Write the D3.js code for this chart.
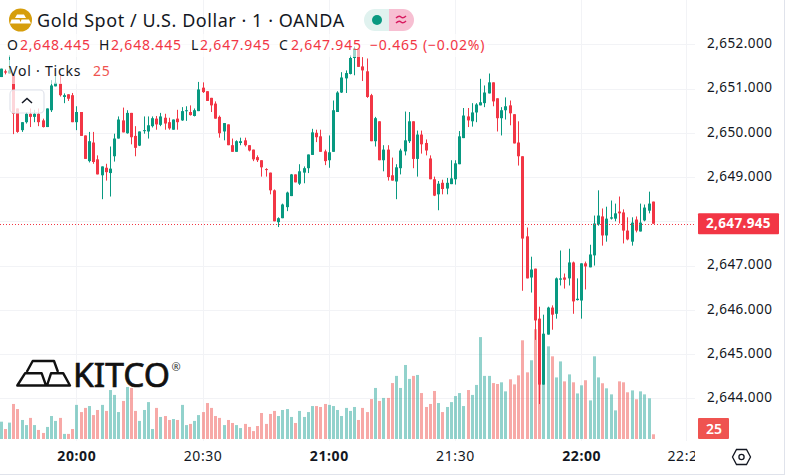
<!DOCTYPE html>
<html>
<head>
<meta charset="utf-8">
<script src="https://cdn.jsdelivr.net/npm/d3@7"></script>
<style>
  html, body { margin: 0; padding: 0; background: #fff; }
  svg { display: block; }
  text { font-family: "Noto Sans", sans-serif; }
</style>
</head>
<body>
<script>
// one-minute candles, 19:42 to 22:17
const startTime = Date.UTC(2024, 0, 1, 19, 42);

const opens = [
  2651.26,2651.39,2651.34,2651.30,2650.55,2650.06,2650.24,2650.43,2650.36,2650.43,2650.28,2650.13,2650.51,
  2651.05,2651.11,2650.81,2650.87,2650.85,2650.24,2650.47,2649.94,2649.36,2649.78,2649.40,2649.04,2649.21,
  2649.09,2649.47,2649.87,2650.28,2649.99,2650.45,2649.93,2649.71,2650.04,2650.03,2650.15,2650.32,2650.18,
  2650.34,2650.24,2650.07,2650.32,2650.28,2650.49,2650.47,2650.38,2650.49,2651.02,2650.94,2650.79,2650.66,
  2650.36,2650.03,2650.19,2649.72,2649.57,2649.77,2649.83,2649.72,2649.62,2649.45,2649.38,2649.18,2649.10,
  2648.70,2647.98,2648.07,2648.32,2648.57,2649.06,2648.85,2649.10,2649.20,2649.50,2650.00,2649.92,2649.58,
  2649.38,2649.57,2650.47,2650.91,2651.23,2651.33,2651.69,2651.90,2651.50,2651.39,2650.85,2649.81,2650.26,
  2649.38,2649.62,2649.04,2648.90,2649.20,2649.58,2649.81,2650.26,2649.41,2649.96,2649.77,2649.42,2648.95,
  2648.61,2648.87,2648.74,2648.84,2648.95,2649.29,2649.88,2650.37,2650.26,2650.46,2650.62,2650.67,2650.89,
  2651.14,2650.78,2650.33,2650.51,2650.62,2650.42,2649.78,2649.47,2647.66,2646.73,2646.93,2645.80,2644.31,
  2645.44,2646.05,2645.91,2646.68,2646.73,2646.71,2647.07,2646.22,2646.21,2647.05,2646.96,2647.23,2647.93,
  2648.11,2647.68,2648.06,2648.06,2648.22,2648.20,2647.79,2647.54,2648.04,2647.77,2648.02,2648.24,2648.445
];
const highs = [
  2651.45,2651.43,2651.75,2651.30,2650.55,2650.24,2650.47,2650.55,2650.52,2650.55,2650.32,2650.55,2651.19,
  2651.30,2651.32,2650.89,2650.87,2650.90,2650.60,2650.47,2649.94,2650.02,2650.02,2649.49,2649.24,2649.30,
  2649.69,2649.98,2650.37,2650.57,2650.51,2650.45,2650.15,2650.03,2650.37,2650.37,2650.37,2650.38,2650.45,
  2650.43,2650.34,2650.30,2650.52,2650.58,2650.60,2650.62,2650.55,2651.15,2651.14,2650.94,2650.79,2650.71,
  2650.39,2650.22,2650.19,2649.87,2649.83,2649.89,2649.89,2649.72,2649.62,2649.49,2649.38,2649.20,2649.10,
  2648.72,2648.09,2648.40,2648.67,2649.07,2649.06,2649.29,2649.24,2649.51,2650.09,2650.07,2650.07,2649.62,
  2649.94,2650.73,2650.94,2651.37,2651.41,2651.75,2651.95,2651.90,2651.71,2651.68,2650.88,2650.36,2650.26,
  2649.72,2649.72,2649.44,2649.29,2649.64,2650.48,2650.47,2650.26,2650.05,2650.05,2649.85,2649.49,2649.01,
  2648.91,2648.94,2648.98,2649.38,2649.38,2650.04,2650.56,2650.56,2650.67,2650.67,2651.22,2651.07,2651.34,
  2651.14,2650.78,2650.58,2650.80,2650.73,2650.42,2650.26,2649.47,2647.86,2647.20,2646.93,2646.07,2645.89,
  2646.07,2646.10,2646.73,2647.34,2646.82,2647.38,2647.09,2646.71,2647.05,2647.09,2647.47,2648.13,2648.70,
  2648.29,2648.33,2648.47,2648.40,2648.56,2648.27,2648.09,2648.09,2648.11,2648.40,2648.38,2648.67,2648.445
];
const lows = [
  2651.26,2651.32,2651.34,2649.97,2650.00,2650.02,2650.21,2650.13,2650.24,2650.15,2650.12,2650.13,2650.47,
  2651.05,2650.82,2650.67,2650.72,2650.24,2650.06,2649.93,2649.41,2649.33,2649.30,2649.06,2648.50,2648.92,
  2648.56,2649.35,2649.87,2650.01,2649.98,2649.74,2649.47,2649.70,2649.98,2649.87,2650.12,2650.07,2650.15,
  2650.07,2650.07,2650.07,2650.07,2650.27,2650.27,2650.39,2650.37,2650.49,2650.90,2650.72,2650.47,2650.32,
  2649.89,2649.83,2649.72,2649.57,2649.57,2649.72,2649.69,2649.58,2649.36,2649.34,2649.01,2649.01,2648.61,
  2648.00,2647.87,2648.07,2648.23,2648.57,2648.88,2648.82,2648.86,2649.09,2649.50,2649.79,2649.57,2649.27,
  2649.21,2649.57,2650.47,2650.90,2650.90,2651.32,2651.30,2651.49,2651.17,2650.79,2649.81,2649.69,2649.38,
  2649.13,2648.92,2648.92,2648.50,2649.06,2649.49,2649.77,2649.20,2649.01,2649.53,2649.49,2648.95,2648.57,
  2648.25,2648.61,2648.61,2648.84,2648.83,2649.29,2649.88,2650.13,2650.14,2650.24,2650.62,2650.58,2650.89,
  2650.60,2650.03,2649.94,2650.30,2650.17,2649.76,2649.26,2646.43,2646.71,2646.39,2645.32,2643.87,2644.31,
  2645.44,2645.55,2645.80,2646.55,2646.48,2646.55,2645.91,2646.21,2645.80,2646.46,2646.96,2647.00,2647.90,
  2647.45,2647.54,2648.04,2648.00,2647.95,2647.50,2647.57,2647.45,2647.75,2647.77,2648.00,2648.18,2647.945
];
const closes = [
  2651.45,2651.36,2651.41,2650.43,2650.02,2650.24,2650.43,2650.36,2650.43,2650.24,2650.13,2650.55,2651.07,
  2651.13,2650.85,2650.85,2650.77,2650.24,2650.47,2649.93,2649.41,2649.81,2649.34,2649.06,2649.24,2649.11,
  2649.19,2649.87,2650.30,2650.01,2650.45,2649.90,2649.66,2650.03,2650.06,2650.17,2650.33,2650.19,2650.37,
  2650.21,2650.10,2650.30,2650.24,2650.49,2650.51,2650.40,2650.51,2650.98,2650.92,2650.72,2650.62,2650.32,
  2649.99,2650.22,2649.72,2649.57,2649.81,2649.81,2649.72,2649.60,2649.40,2649.38,2649.22,2649.16,2648.70,
  2648.00,2648.07,2648.38,2648.65,2649.06,2648.88,2649.13,2649.20,2649.51,2650.01,2649.90,2649.57,2649.36,
  2649.56,2650.51,2650.91,2651.25,2651.35,2651.69,2651.90,2651.49,2651.41,2650.81,2649.81,2650.33,2649.38,
  2649.62,2649.00,2648.92,2649.22,2649.60,2649.83,2650.26,2649.41,2649.96,2649.74,2649.60,2648.95,2648.58,
  2648.85,2648.73,2648.87,2648.97,2649.31,2649.92,2650.39,2650.28,2650.46,2650.64,2650.69,2650.91,2651.14,
  2650.71,2650.33,2650.51,2650.60,2650.44,2649.76,2649.47,2647.61,2646.71,2646.91,2645.76,2644.31,2645.46,
  2646.05,2645.89,2646.71,2646.71,2646.68,2647.07,2646.19,2646.25,2647.05,2646.98,2647.25,2647.95,2648.13,
  2647.68,2648.06,2648.09,2648.18,2648.18,2647.79,2647.59,2647.97,2647.79,2647.97,2648.31,2648.40,2647.945
];
const volumes = [
  92,53,87,186,159,101,74,112,74,48,32,64,122,96,112,27,27,53,181,143,165,175,127,154,181,149,
  260,234,143,202,276,271,149,96,154,196,53,165,117,122,101,106,101,181,74,80,96,127,143,191,165,122,
  112,74,101,85,74,58,80,64,42,69,138,80,133,149,122,154,159,117,85,149,117,143,175,175,170,186,
  181,175,154,122,165,149,170,101,165,143,212,271,202,218,218,297,335,271,393,319,335,340,244,170,186,255,
  191,143,170,196,228,244,175,260,234,287,541,335,335,297,292,301,253,317,290,338,524,354,418,583,440,380,
  492,439,327,412,306,343,301,242,285,312,205,439,327,296,269,237,152,306,301,248,258,211,253,237,216,25
];

const priceTicks = [2652, 2651, 2650, 2649, 2648, 2647, 2646, 2645, 2644];
const hourLabels = ['20:00', '21:00', '22:00'];
const timeTicks = [
  Date.UTC(2024, 0, 1, 20, 0), Date.UTC(2024, 0, 1, 20, 30), Date.UTC(2024, 0, 1, 21, 0),
  Date.UTC(2024, 0, 1, 21, 30), Date.UTC(2024, 0, 1, 22, 0), Date.UTC(2024, 0, 1, 22, 25)
];
const lastPrice = 2647.945;
const lastVolume = 25;

const green = '#089981', red = '#f23645';
const textColor = '#131722';
const gridColor = '#f2f3f6';

const plotWidth = 695;
const plotBottom = 441;

const candles = opens.map((o, i) => ({
  time: startTime + i * 60000, open: o, high: highs[i], low: lows[i], close: closes[i], volume: volumes[i]
}));

const x = d3.scaleUtc()
  .domain([startTime, Date.UTC(2024, 0, 1, 22, 25)])
  .range([0.6, 686.4]);
const y = d3.scaleLinear().domain([2652, 2644]).range([44.3, 398.3]);
// the volume pane shares the plot, 25 ticks is about 4.7px high
const yVol = d3.scaleLinear().domain([0, 600]).range([439, 326]);

const svg = d3.select('body').append('svg').attr('width', 785).attr('height', 475);

svg.append('defs').append('clipPath').attr('id', 'plot-clip')
  .append('rect').attr('x', 0).attr('y', 0).attr('width', plotWidth).attr('height', 475);

// grid
const grid = svg.append('g');
grid.selectAll('line.h').data(priceTicks).join('line')
  .attr('x1', 0).attr('x2', plotWidth)
  .attr('y1', d => Math.round(y(d)) + 0.5).attr('y2', d => Math.round(y(d)) + 0.5)
  .attr('stroke', gridColor);
grid.selectAll('line.v').data(timeTicks).join('line')
  .attr('x1', d => Math.round(x(d)) + 0.5).attr('x2', d => Math.round(x(d)) + 0.5)
  .attr('y1', 0).attr('y2', plotBottom)
  .attr('stroke', gridColor);

// volume
svg.append('g').selectAll('rect').data(candles).join('rect')
  .attr('x', d => Math.round(x(d.time)) - 1)
  .attr('width', 3)
  .attr('y', d => yVol(d.volume))
  .attr('height', d => yVol(0) - yVol(d.volume))
  .attr('fill', d => d.close >= d.open ? 'rgba(38,166,154,0.5)' : 'rgba(239,83,80,0.5)');

// wicks and bodies
const candleG = svg.append('g').selectAll('g').data(candles).join('g')
  .attr('fill', d => d.close >= d.open ? green : red);
candleG.append('rect')
  .attr('x', d => Math.round(x(d.time)))
  .attr('width', 1)
  .attr('y', d => y(d.high))
  .attr('height', d => y(d.low) - y(d.high));
candleG.append('rect')
  .attr('x', d => Math.round(x(d.time)) - 1)
  .attr('width', 3)
  .attr('y', d => y(Math.max(d.open, d.close)))
  .attr('height', d => Math.max(1, Math.abs(y(d.open) - y(d.close))));

// last price line
svg.append('line')
  .attr('x1', 0).attr('x2', plotWidth)
  .attr('y1', Math.round(y(lastPrice)) + 0.5).attr('y2', Math.round(y(lastPrice)) + 0.5)
  .attr('stroke', red).attr('stroke-dasharray', '1 2');

// axes
const priceAxis = d3.axisRight(y)
  .tickValues(priceTicks.filter(d => d !== 2648))
  .tickFormat(d3.format(',.3f'))
  .tickSize(0).tickPadding(0);
svg.append('g').attr('transform', 'translate(707,-1)').call(priceAxis)
  .call(g => g.select('.domain').remove())
  .selectAll('text')
  .attr('font-size', 13.5).attr('letter-spacing', 0.45).attr('fill', textColor).attr('font-family', 'Noto Sans, sans-serif');

const fmtTime = d3.utcFormat('%H:%M');
const timeAxis = d3.axisBottom(x).tickValues(timeTicks).tickFormat(fmtTime).tickSize(0).tickPadding(0);
svg.append('g').attr('clip-path', 'url(#plot-clip)')
  .append('g').attr('transform', 'translate(0,451)').call(timeAxis)
  .call(g => g.select('.domain').remove())
  .selectAll('text')
  .attr('font-size', 14).attr('letter-spacing', 0.6).attr('fill', textColor).attr('font-family', 'Noto Sans, sans-serif')
  .attr('font-weight', d => hourLabels.includes(fmtTime(d)) ? 700 : 400);

// price and volume flags
svg.append('rect').attr('x', 698).attr('y', y(lastPrice) - 10.5).attr('width', 81).attr('height', 21)
  .attr('rx', 1).attr('fill', red);
svg.append('text').attr('x', 706).attr('y', y(lastPrice) + 4.5).attr('font-size', 13.5).attr('letter-spacing', 0.35).attr('font-weight', 700)
  .attr('fill', '#fff').text(d3.format(',.3f')(lastPrice));
svg.append('rect').attr('x', 698).attr('y', 418).attr('width', 31).attr('height', 21)
  .attr('rx', 1).attr('fill', '#ef5350');
svg.append('text').attr('x', 714).attr('y', 433.5).attr('text-anchor', 'middle').attr('font-size', 14)
  .attr('font-weight', 600).attr('fill', '#fff').text(lastVolume);

// settings hexagon
svg.append('path').attr('d', 'M736.5 449.5 L746.5 449.5 L750.5 457 L746.5 464.5 L736.5 464.5 L732.5 457 Z')
  .attr('fill', 'none').attr('stroke', textColor).attr('stroke-width', 1.3);
svg.append('circle').attr('cx', 741.5).attr('cy', 457).attr('r', 2.6)
  .attr('fill', 'none').attr('stroke', textColor).attr('stroke-width', 1.3);

// legend rows sit on a see-through white backing
svg.append('rect').attr('x', 0).attr('y', 34).attr('width', 488).attr('height', 23).attr('fill', 'rgba(255,255,255,0.6)');
svg.append('rect').attr('x', 8).attr('y', 60).attr('width', 106).attr('height', 24).attr('fill', 'rgba(255,255,255,0.6)');
svg.append('rect').attr('x', 10).attr('y', 90).attr('width', 34).attr('height', 23).attr('rx', 4)
  .attr('fill', 'rgba(255,255,255,0.8)').attr('stroke', '#e0e3eb').attr('stroke-width', 1.2);
svg.append('path').attr('d', 'M22 103 L27 98.5 L32 103').attr('fill', 'none').attr('stroke', textColor).attr('stroke-width', 1.5);

// title row
svg.append('circle').attr('cx', 20.5).attr('cy', 20).attr('r', 11.5).attr('fill', '#d69e0c');
svg.append('path').attr('d', 'M17 14.5 h7 l2 3.5 h-11 Z M11.5 19.5 h8 l1.5 4 h-11 Z M21.5 19.5 h7.5 l2 4 h-11 Z').attr('fill', '#fff');
svg.append('text').attr('x', 37).attr('y', 27).attr('font-size', 18).attr('letter-spacing', 0.55).attr('fill', textColor)
  .text('Gold Spot / U.S. Dollar · 1 · OANDA');

svg.append('path').attr('d', 'M389 9 H375 A11 11 0 0 0 375 31 H389 Z').attr('fill', '#e0f2ef');
svg.append('path').attr('d', 'M389 9 H403 A11 11 0 0 1 403 31 H389 Z').attr('fill', '#f7bfd2');
svg.append('circle').attr('cx', 377).attr('cy', 20).attr('r', 5).attr('fill', green);
svg.append('path').attr('d', 'M396 18 q3 -3 5 -1 t5 -1 M396 23 q3 -3 5 -1 t5 -1').attr('fill', 'none')
  .attr('stroke', '#d81b60').attr('stroke-width', 1.4);

// ohlc row
const ohlc = svg.append('text').attr('y', 50).attr('font-size', 14).attr('letter-spacing', 0.8);
const ohlcParts = [
  ['O', textColor, 7], ['2,648.445', red, 20], ['H', textColor, 99], ['2,648.445', red, 111],
  ['L', textColor, 191], ['2,647.945', red, 200], ['C', textColor, 279], ['2,647.945', red, 291],
  ['−0.465 (−0.02%)', red, 370]
];
ohlcParts.forEach(p => {
  ohlc.append('tspan').attr('fill', p[1]).attr('x', p[2]).text(p[0]);
});

svg.append('text').attr('x', 9).attr('y', 76).attr('font-size', 14).attr('letter-spacing', 0.8).attr('fill', textColor).text('Vol · Ticks');
svg.append('text').attr('x', 93).attr('y', 76).attr('font-size', 14).attr('letter-spacing', 0.8).attr('fill', '#ef5350').text(lastVolume);

// kitco mark
svg.append('path')
  .attr('d', 'M25 373.3 L41.7 373.3 L46 385.5 L17.3 385.5 Z M51 373.3 L63.3 373.3 L70 385.5 L47 385.5 Z M26.7 372 L32.7 361 L54 361 L58 372')
  .attr('fill', 'none').attr('stroke', '#111').attr('stroke-width', 2.4).attr('stroke-linejoin', 'round');
svg.append('text').attr('x', 73).attr('y', 387).attr('font-size', 33).attr('font-family', 'Lato, sans-serif')
  .attr('font-weight', 400).attr('fill', '#111').attr('stroke', '#111').attr('stroke-width', 0.7)
  .attr('textLength', 97).attr('lengthAdjust', 'spacingAndGlyphs').text('KITCO');
svg.append('text').attr('x', 171.5).attr('y', 371).attr('font-size', 11).attr('fill', '#333').text('®');

// page edge
svg.append('line').attr('x1', 0).attr('x2', 785).attr('y1', 474.5).attr('y2', 474.5).attr('stroke', '#e0e3eb');
svg.append('line').attr('x1', 784.5).attr('x2', 784.5).attr('y1', 0).attr('y2', 475).attr('stroke', '#e0e3eb');
</script>
</body>
</html>
